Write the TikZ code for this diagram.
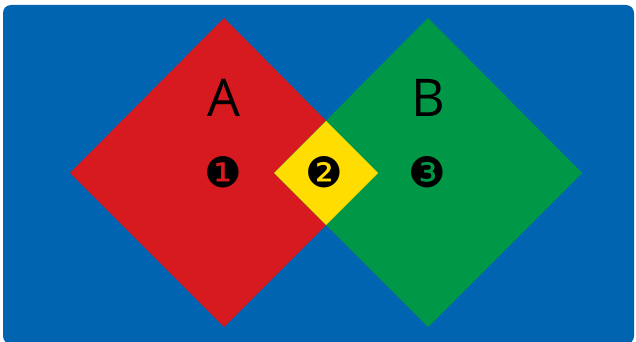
\documentclass[tikz,border=0pt]{standalone}
\usepackage{fontspec}
\setmainfont{Open Sans}
\newfontfamily\dingfont{DejaVu Sans}
\definecolor{bgblue}{RGB}{0,100,176}
\definecolor{dred}{RGB}{215,25,32}
\definecolor{dgreen}{RGB}{0,152,70}
\definecolor{dyellow}{RGB}{255,221,0}
\begin{document}
\begin{tikzpicture}[x=1pt,y=-1pt,
  letter/.style={font=\fontsize{52}{52}\selectfont, text=black, inner sep=0pt},
  num/.style={font=\dingfont\fontsize{42}{42}\selectfont, text=black, inner sep=0pt}]
\useasboundingbox (0,0) rectangle (636,342);
\fill[white] (0,0) rectangle (636,342);
\fill[bgblue, rounded corners=8pt] (3,5) rectangle (634,344);
% diamonds
\fill[dred] (70,173) -- (224,18) -- (378,173) -- (224,327) -- cycle;
\fill[dgreen] (274,173) -- (428,18) -- (582,173) -- (428,327) -- cycle;
\fill[dyellow] (274,173) -- (326,121) -- (378,173) -- (326,225) -- cycle;
\node[letter] (A) at (224,98) {A};
\node[letter] (B) at (428,98) {B};
\node[num] (n1) at (223,172) {❶};
\node[num] (n2) at (324,172) {❷};
\node[num] (n3) at (427,172) {❸};
\end{tikzpicture}
\end{document}
